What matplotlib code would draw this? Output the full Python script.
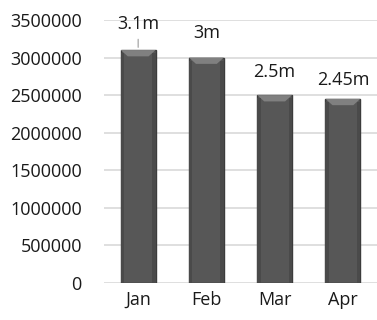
import matplotlib
matplotlib.use("Agg")
import matplotlib.pyplot as plt
import numpy as np

months = ["Jan", "Feb", "Mar", "Apr"]
values = [3100000, 3000000, 2500000, 2450000]
labels = ["3.1m", "3m", "2.5m", "2.45m"]
yticks = [0, 500000, 1000000, 1500000, 2000000, 2500000, 3000000, 3500000]

label_offsets_px = [26, 25, 23, 19]

plt.rcParams['font.family'] = ['Open Sans', 'DejaVu Sans']

fig = plt.figure(figsize=(3.77, 3.2), dpi=100)
ax = fig.add_axes([0.276, 0.116, 0.724, 0.8215])

x = np.arange(len(months))
bars = ax.bar(x, values, width=0.51, color='#575757', edgecolor='#3c3c3c', linewidth=1.0, zorder=3)

# bevel highlight on top of each bar
for b in bars:
    x0 = b.get_x(); w = b.get_width(); h = b.get_height()
    bevel = 0.024 * 3500000
    inset = w * 0.2
    poly = plt.Polygon([[x0, h], [x0 + w, h], [x0 + w - inset, h - bevel], [x0 + inset, h - bevel]],
                       closed=True, facecolor='#808080', edgecolor='none', zorder=4)
    ax.add_patch(poly)
    ax.add_patch(plt.Rectangle((x0, 0), w * 0.1, h - bevel * 0.5, facecolor='#4a4a4a', edgecolor='none', zorder=4))
    ax.add_patch(plt.Rectangle((x0 + w * 0.9, 0), w * 0.1, h - bevel * 0.5, facecolor='#4a4a4a', edgecolor='none', zorder=4))

for i, (v, lab) in enumerate(zip(values, labels)):
    off = label_offsets_px[i] * 0.72
    ax.annotate(lab, xy=(x[i], v), xytext=(0, off), textcoords='offset points',
                ha='center', va='center', fontsize=13, color='#1a1a1a', zorder=5)
    if i == 0:
        ax.annotate('', xy=(x[i], v), xytext=(0, off - 9), textcoords='offset points',
                    arrowprops=dict(arrowstyle='-', color='#a6a6a6', lw=0.9), zorder=2)

ax.set_xlim(-0.5, 3.5)
ax.set_ylim(0, 3500000)
ax.set_yticks(yticks)
ax.set_yticklabels([str(t) for t in yticks])
ax.set_xticks(x)
ax.set_xticklabels(months)
ax.tick_params(axis='both', length=0, labelsize=13, colors='#1a1a1a')
ax.tick_params(axis='y', pad=16)
ax.tick_params(axis='x', pad=6)
ax.yaxis.grid(True, color='#d9d9d9', linewidth=1.2, zorder=0)
ax.set_axisbelow(True)
for s in ax.spines.values():
    s.set_visible(False)

fig.savefig("out.png", dpi=100)
